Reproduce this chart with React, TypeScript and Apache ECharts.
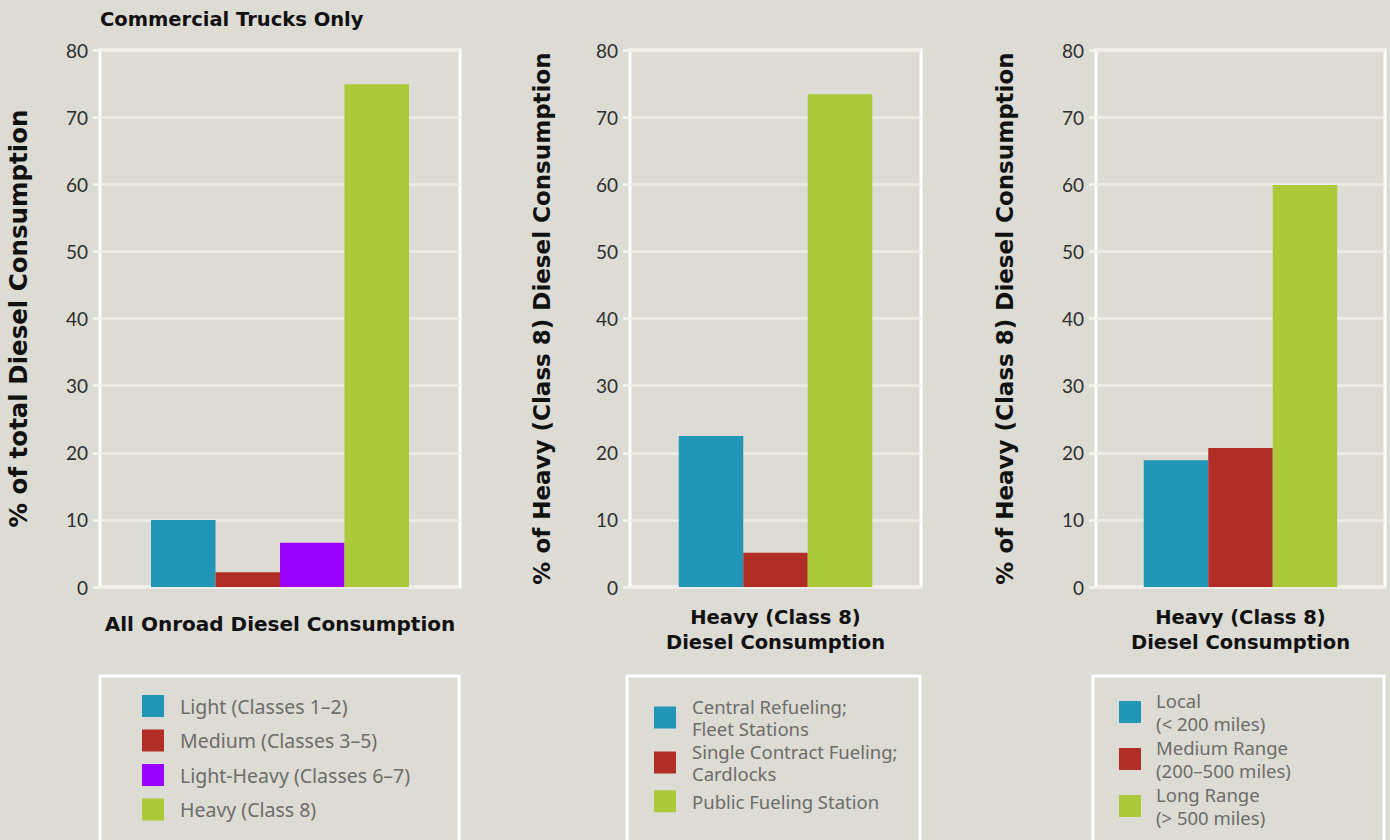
import React, { useEffect, useRef } from "react";
import * as echarts from "echarts";

// ---- data ----
const onroadNames = [
  "Light (Classes 1–2)",
  "Medium (Classes 3–5)",
  "Light-Heavy (Classes 6–7)",
  "Heavy (Class 8)",
];
const onroadValues = [10.0, 2.2, 6.6, 74.9];

const fuelingNames = [
  "Central Refueling;\nFleet Stations",
  "Single Contract Fueling;\nCardlocks",
  "Public Fueling Station",
];
const fuelingValues = [22.5, 5.1, 73.4];

const rangeNames = [
  "Local\n(< 200 miles)",
  "Medium Range\n(200–500 miles)",
  "Long Range\n(> 500 miles)",
];
const rangeValues = [18.9, 20.7, 59.9];

const onroadColors = ["#2196b6", "#b02e26", "#9900ff", "#abc938"];
const threeColors = ["#2196b6", "#b02e26", "#abc938"];

const yTicks = { min: 0, max: 80, interval: 10 };

const panelTitles = [
  "All Onroad Diesel Consumption",
  "Heavy (Class 8)\nDiesel Consumption",
  "Heavy (Class 8)\nDiesel Consumption",
];
const yNames = [
  "% of total Diesel Consumption",
  "% of Heavy (Class 8) Diesel Consumption",
  "% of Heavy (Class 8) Diesel Consumption",
];

const BG = "#dcdbd4";
const FONT = "'Noto Sans', sans-serif";
const BOLD_FONT = "'DejaVu Sans', sans-serif";

export default function App() {
  const ref = useRef<HTMLDivElement>(null);

  useEffect(() => {
    if (!ref.current) return;
    const chart = echarts.init(ref.current, undefined, { renderer: "svg" });

    const grids = [
      { left: 100, top: 50, width: 360, height: 537 },
      { left: 630, top: 50, width: 291, height: 537 },
      { left: 1096, top: 50, width: 289, height: 537 },
    ];

    const xNameGaps = [24, 18, 18];
    const xNameSizes = [20, 19.5, 19.5];
    const yNameGaps = [69, 77, 80];
    const yNameSizes = [24.5, 23, 23];

    const xAxes = grids.map((_, i) => ({
      type: "category",
      gridIndex: i,
      data: [""],
      axisLine: { show: false },
      axisTick: { show: false },
      axisLabel: { show: false },
      name: panelTitles[i],
      nameLocation: "middle",
      nameGap: xNameGaps[i],
      nameTextStyle: {
        fontFamily: BOLD_FONT,
        fontWeight: "bold",
        fontSize: xNameSizes[i],
        lineHeight: 25,
        color: "#111",
        verticalAlign: "top",
      },
    }));

    const yAxes = grids.map((_, i) => ({
      type: "value",
      gridIndex: i,
      min: yTicks.min,
      max: yTicks.max,
      interval: yTicks.interval,
      axisLine: { show: false },
      axisTick: { show: true, length: 7, lineStyle: { color: "#f4f4f0", width: 2.5 } },
      axisLabel: {
        margin: 12,
        fontFamily: "Lato, sans-serif",
        fontSize: 19,
        color: "#2e2e2e",
      },
      splitLine: { show: true, lineStyle: { color: "#eeede8", width: 2.5 } },
      name: yNames[i],
      nameLocation: "middle",
      nameGap: yNameGaps[i],
      nameTextStyle: {
        fontFamily: BOLD_FONT,
        fontWeight: "bold",
        fontSize: yNameSizes[i],
        color: "#111",
      },
    }));

    const makeSeries = (names: string[], values: number[], colors: string[], idx: number) =>
      names.map((n, k) => ({
        type: "bar",
        name: n,
        xAxisIndex: idx,
        yAxisIndex: idx,
        data: [values[k]],
        barWidth: 64.5,
        barGap: "0%",
        itemStyle: { color: colors[k] },
        emphasis: { disabled: true },
      }));

    const series = [
      ...makeSeries(onroadNames, onroadValues, onroadColors, 0),
      ...makeSeries(fuelingNames, fuelingValues, threeColors, 1),
      ...makeSeries(rangeNames, rangeValues, threeColors, 2),
    ];

    const legendText = {
      fontFamily: FONT,
      fontSize: 18.5,
      color: "#6d6d69",
      lineHeight: 22.5,
      padding: [0, 0, 0, 11],
    };
    const legendBase = {
      orient: "vertical",
      icon: "rect",
      itemWidth: 22,
      itemHeight: 22,
      padding: 0,
      itemGap: 12.5,
      textStyle: legendText,
      inactiveColor: "#aaa",
    };

    const legends = [
      {
        ...legendBase,
        left: 142,
        top: 695,
        data: onroadNames,
        itemGap: 12.5,
        textStyle: { ...legendText, fontSize: 19.5, lineHeight: 22 },
      },
      { ...legendBase, left: 654, top: 695, data: fuelingNames.slice(0, 2), itemGap: 0 },
      { ...legendBase, left: 654, top: 790, data: fuelingNames.slice(2) },
      {
        ...legendBase,
        left: 1119,
        top: 689,
        data: rangeNames,
        itemGap: 1,
        textStyle: { ...legendText, lineHeight: 23, padding: [0, 0, 0, 10] },
      },
    ];

    const boxStyle = { fill: "transparent", stroke: "#ffffff", lineWidth: 3 };

    chart.setOption({
      animation: false,
      backgroundColor: BG,
      title: {
        text: "Commercial Trucks Only",
        left: 100,
        top: 9,
        padding: 0,
        textStyle: { fontFamily: BOLD_FONT, fontWeight: "bold", fontSize: 19.5, color: "#111" },
      },
      grid: grids.map((g) => ({
        ...g,
        show: true,
        borderColor: "#ffffff",
        borderWidth: 3,
        backgroundColor: "transparent",
        containLabel: false,
      })),
      xAxis: xAxes,
      yAxis: yAxes,
      legend: legends,
      series,
      graphic: [
        { type: "rect", shape: { x: 100, y: 676, width: 359, height: 200 }, style: boxStyle, silent: true },
        { type: "rect", shape: { x: 627, y: 676, width: 293, height: 200 }, style: boxStyle, silent: true },
        { type: "rect", shape: { x: 1093, y: 676, width: 291, height: 200 }, style: boxStyle, silent: true },
      ],
    });

    return () => chart.dispose();
  }, []);

  return (
    <div
      ref={ref}
      style={{ position: "absolute", left: 0, top: 0, width: 1390, height: 840 }}
    />
  );
}
